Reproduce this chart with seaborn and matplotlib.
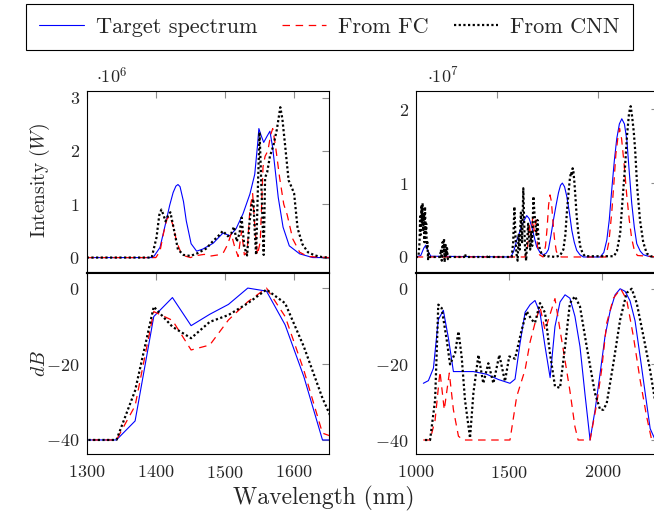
"""Target vs. FC / CNN reconstructed spectra: intensity (top) and dB (bottom)."""
import matplotlib
matplotlib.use("Agg")
import matplotlib.pyplot as plt
import seaborn as sns

# ---------------------------------------------------------------- data
# top-left: intensity, units of 1e6 W, wavelength in nm
tl_target_x = [1300, 1396, 1406, 1415, 1420, 1425, 1429, 1432, 1435, 1440, 1444, 1451,
               1459, 1468, 1483, 1497, 1507, 1516, 1526, 1536, 1543, 1547, 1549, 1552,
               1556, 1561, 1565, 1569, 1573, 1577, 1584, 1593, 1608, 1627, 1650]
tl_target_y = [0, 0, 0.19, 0.69, 0.98, 1.22, 1.34, 1.37, 1.33, 1.05, 0.69, 0.26,
               0.12, 0.16, 0.27, 0.46, 0.41, 0.54, 0.82, 1.19, 1.56, 2.1, 2.42, 2.3,
               2.16, 2.28, 2.37, 2.06, 1.6, 1.13, 0.57, 0.22, 0.07, 0.0, 0.0]
tl_fc_x = [1300, 1400, 1406, 1411, 1416, 1420, 1425, 1430, 1436, 1442, 1450, 1460, 1470,
           1480, 1490, 1498, 1504, 1509, 1514, 1519, 1524, 1528, 1532, 1536, 1540, 1543,
           1547, 1551, 1555, 1558, 1562, 1566, 1569, 1573, 1579, 1585, 1590, 1598, 1608,
           1620, 1650]
tl_fc_y = [0, 0, 0.12, 0.45, 0.72, 0.78, 0.6, 0.3, 0.1, 0.03, 0.0, 0.04, 0.06,
           0.03, 0.05, 0.1, 0.25, 0.45, 0.2, 0.02, 0.5, 0.05, 0.1, 0.9, 1.2, 0.6,
           0.05, 0.3, 1.7, 1.9, 2.0, 2.3, 2.42, 2.1, 1.5, 1.0, 0.8, 0.35, 0.1,
           0.02, 0]
tl_cnn_x = [1300, 1394, 1401, 1405, 1408, 1411, 1414, 1418, 1421, 1425, 1432, 1440, 1450,
            1460, 1473, 1482, 1490, 1497, 1504, 1509, 1513, 1517, 1521, 1524, 1528, 1532,
            1535, 1538, 1541, 1543, 1545, 1548, 1550, 1553, 1556, 1558, 1561, 1565, 1570,
            1575, 1580, 1583, 1587, 1592, 1597, 1600, 1605, 1612, 1620, 1630, 1640, 1650]
tl_cnn_y = [0, 0, 0.38, 0.8, 0.9, 0.8, 0.68, 0.8, 0.85, 0.6, 0.15, 0.05, 0.03,
            0.08, 0.17, 0.3, 0.4, 0.5, 0.4, 0.45, 0.58, 0.3, 0.45, 0.75, 0.2, 0.04,
            0.6, 0.95, 1.1, 0.5, 0.05, 1.5, 2.35, 1.2, 0.05, 1.5, 1.6, 1.9, 2.1,
            2.4, 2.82, 2.6, 2.1, 1.45, 1.3, 1.2, 0.55, 0.25, 0.1, 0.04, 0.01, 0]

# top-right: intensity, units of 1e7 W
tr_target_x = [1100, 1125, 1140, 1150, 1160, 1175, 1570, 1585, 1600, 1612, 1624, 1637,
               1649, 1661, 1674, 1686, 1698, 1715, 1731, 1745, 1756, 1768, 1781, 1794,
               1806, 1816, 1825, 1836, 1847, 1860, 1872, 1884, 1896, 1912, 1929, 2012,
               2030, 2045, 2057, 2069, 2082, 2094, 2107, 2119, 2132, 2144, 2156, 2168,
               2181, 2193, 2210, 2226, 2250, 2300]
tr_target_y = [0, 0.02, 0.12, 0.16, 0.08, 0.01, 0, 0.08, 0.23, 0.32, 0.42, 0.5,
               0.56, 0.52, 0.41, 0.27, 0.14, 0.06, 0.03, 0.05, 0.1, 0.28, 0.5, 0.7,
               0.87, 0.97, 1.0, 0.95, 0.82, 0.6, 0.36, 0.2, 0.09, 0.03, 0.0, 0.0,
               0.06, 0.23, 0.5, 0.9, 1.3, 1.6, 1.8, 1.87, 1.8, 1.58, 1.15, 0.73,
               0.4, 0.18, 0.08, 0.03, 0.01, 0]
tr_fc_x = [1100, 1640, 1652, 1662, 1670, 1678, 1686, 1694, 1702, 1712, 1730, 1742,
           1750, 1757, 1764, 1771, 1778, 1786, 1795, 1805, 1820, 2040, 2055, 2069,
           2080, 2090, 2100, 2108, 2118, 2130, 2143, 2156, 2168, 2181, 2196, 2300]
tr_fc_y = [0, 0, 0.1, 0.45, 0.25, 0.52, 0.35, 0.5, 0.15, 0.03, 0.0, 0.15,
           0.4, 0.7, 0.84, 0.75, 0.5, 0.25, 0.08, 0.02, 0, 0, 0.2, 0.59,
           1.0, 1.4, 1.62, 1.74, 1.6, 1.27, 0.85, 0.5, 0.25, 0.09, 0.02, 0]
tr_cnn_x = [1100, 1112, 1115, 1119, 1122, 1125, 1128, 1131, 1134, 1137, 1140, 1143,
            1146, 1149, 1152, 1155, 1158, 1161, 1164, 1168, 1220, 1225, 1229, 1233,
            1237, 1240, 1243, 1247, 1251, 1255, 1259, 1263, 1340, 1344, 1348, 1455,
            1459, 1463, 1575, 1582, 1588, 1593, 1598, 1604, 1609, 1614, 1620, 1626,
            1632, 1637, 1641, 1646, 1651, 1656, 1661, 1666, 1671, 1676, 1682, 1687,
            1692, 1697, 1702, 1708, 1714, 1722, 1731, 1745, 1760, 1790, 1814, 1830,
            1840, 1847, 1855, 1862, 1868, 1872, 1876, 1880, 1885, 1890, 1896, 1903,
            1913, 1925, 1937, 2080, 2095, 2111, 2122, 2135, 2145, 2155, 2163, 2170,
            2178, 2185, 2195, 2209, 2225, 2242, 2260, 2300]
tr_cnn_y = [0, 0, 0.05, 0.2, 0.55, 0.3, 0.7, 0.45, 0.73, 0.35, 0.6, 0.2,
            0.68, 0.3, 0.45, 0.1, 0.2, -0.03, 0.05, 0, 0, 0.1, -0.05, 0.2,
            0.05, 0.25, -0.07, 0.18, 0.02, 0.12, -0.03, 0, 0, 0.04, 0, 0,
            0.03, 0, 0, 0.2, 0.68, 0.3, 0.05, -0.05, 0.3, 0.1, 0.6, 0.2,
            0.93, 0.4, 0.1, -0.05, 0.2, 0.45, 0.25, 0.1, 0.35, 0.15, 0.82, 0.6,
            0.45, 0.3, 0.5, 0.2, 0.1, 0.05, 0.03, 0.0, 0.01, 0.0, 0.02, 0.1,
            0.3, 0.59, 0.85, 1.05, 1.15, 1.1, 1.2, 1.15, 1.0, 0.8, 0.55, 0.35,
            0.15, 0.05, 0.01, 0.01, 0.08, 0.32, 0.75, 1.22, 1.65, 1.95, 2.04, 1.9,
            1.7, 1.45, 0.95, 0.5, 0.2, 0.05, 0.01, 0]

# bottom-left: dB
bl_x = [1289, 1316, 1343, 1370, 1397, 1424, 1451, 1478, 1505, 1533, 1560, 1587, 1614, 1641, 1668]
bl_target_db = [-40, -40, -40, -35, -7.5, -2.5, -9.9, -6.9, -4.3, 0, -0.8, -9.7, -23.3, -40, -40]
bl_fc_db = [-40, -40, -40, -31, -6.2, -8.5, -16.3, -15, -8.4, -3.6, 0, -7.5, -21.6, -38.2, -40]
bl_cnn_db = [-40, -40, -40, -27, -4.9, -10.2, -13.2, -8.9, -7.1, -4, -0.4, -4, -15.4, -29, -40]

# bottom-right: dB
br_target_x = [1041, 1068, 1095, 1121, 1148, 1175, 1202, 1309, 1380, 1443, 1505, 1532,
               1559, 1586, 1613, 1639, 1666, 1693, 1720, 1746, 1773, 1800, 1826, 1853,
               1880, 1907, 1934, 1961, 1988, 2014, 2041, 2068, 2095, 2122, 2148, 2175,
               2202, 2229, 2256, 2283, 2310]
br_target_db = [-25, -24.3, -21, -8.2, -5.7, -13, -21.9, -21.9, -22.6, -24, -25, -23.9,
                -14.4, -6.2, -4.2, -3.1, -6.4, -15.3, -23.5, -10, -3.5, -1.6, -2.5, -7.3,
                -15.3, -28, -40, -32, -22.3, -12.6, -6, -1.6, 0, -0.7, -3.2, -8.5,
                -17.9, -27.5, -37, -40, -40]
br_fc_x = [1041, 1077, 1104, 1130, 1153, 1180, 1202, 1229, 1255, 1505, 1541, 1586,
           1613, 1639, 1666, 1693, 1746, 1773, 1800, 1826, 1853, 1870, 1934, 1970,
           1996, 2023, 2059, 2098, 2130, 2166, 2202, 2237, 2264, 2300]
br_fc_db = [-40, -40, -34.7, -21.9, -32, -22.3, -32, -39, -40, -40, -28.5, -21.4,
            -14, -9.1, -4.8, -11, -2.6, -10.9, -19, -27, -36.5, -40, -40, -30.3,
            -21.4, -9.1, -2.5, 0, -2.9, -12.6, -24.1, -33.8, -40, -40]
br_cnn_x = [1050, 1077, 1104, 1121, 1139, 1166, 1184, 1211, 1229, 1246, 1264, 1291,
            1309, 1336, 1362, 1389, 1416, 1448, 1478, 1501, 1532, 1568, 1595, 1621,
            1639, 1666, 1693, 1719, 1746, 1773, 1800, 1826, 1853, 1880, 1916, 1960,
            1988, 2005, 2023, 2059, 2095, 2130, 2157, 2184, 2220, 2255, 2300]
br_cnn_db = [-40, -40, -29.4, -4.2, -5.1, -13.5, -20, -17, -11.3, -17.9, -29.4, -39.5,
             -27.6, -17.5, -25, -19.7, -25, -17.5, -24.5, -17.9, -18.5, -10.8, -6, -8.2,
             -9, -3.8, -6.4, -17, -25.8, -26.2, -15.3, -3.8, -2, -4.7, -15.3, -27.6,
             -32, -32, -30.3, -19.7, -8.2, -1.1, 0, -3.8, -12.6, -21.4, -35]

LABELS = ["Target spectrum", "From FC", "From CNN"]

# ---------------------------------------------------------------- style
sns.set_style("white")
plt.rcParams["font.family"] = "serif"
plt.rcParams["font.serif"] = ["cmr10", "DejaVu Serif"]
plt.rcParams["mathtext.fontset"] = "cm"
plt.rcParams["axes.unicode_minus"] = False

STYLES = [
    dict(color="#0000ff", lw=0.8, linestyle="-"),
    dict(color="#ff0000", lw=0.9, linestyle=(0, (6, 4.5))),
    dict(color="black", lw=1.6, linestyle=(0, (1, 1.1)), dash_capstyle="butt"),
]
TICK_FS = 13
W, H = 654, 519


def make_ax(fig, x0, y0, x1, y1):
    """Axes from pixel box (left, top, right, bottom)."""
    return fig.add_axes([x0 / W, 1 - y1 / H, (x1 - x0) / W, (y1 - y0) / H])


def draw(ax, series):
    for (x, y), st in zip(series, STYLES):
        sns.lineplot(x=x, y=y, ax=ax, estimator=None, sort=False, legend=False, **st)


def style_ax(ax, xlim, xticks, ylim, yticks, top_row, show_xlabels):
    ax.set_xlim(*xlim)
    ax.set_ylim(*ylim)
    ax.set_xticks(xticks, labels=[f"${t}$" for t in xticks])
    ax.set_yticks(yticks, labels=[f"${t}$" for t in yticks])
    ax.set_xlabel("")
    ax.set_ylabel("")
    ax.tick_params(direction="in", length=5, width=0.8, color="#8c8c8c",
                   top=True, right=True, labelsize=TICK_FS, pad=5,
                   labelbottom=show_xlabels)
    ax.tick_params(axis="x", pad=7)
    for sp in ax.spines.values():
        sp.set_color("black")
        sp.set_linewidth(0.8)
    mid = "bottom" if top_row else "top"
    ax.spines[mid].set_linewidth(1.5)


fig = plt.figure(figsize=(W / 100, H / 100), dpi=100)

ax_tl = make_ax(fig, 86.7, 90.7, 328.7, 272.5)
ax_bl = make_ax(fig, 86.7, 272.5, 328.7, 454)
ax_tr = make_ax(fig, 415.7, 90.7, 658.4, 272.5)
ax_br = make_ax(fig, 415.7, 272.5, 658.4, 454)

draw(ax_tl, [(tl_target_x, tl_target_y), (tl_fc_x, tl_fc_y), (tl_cnn_x, tl_cnn_y)])
draw(ax_tr, [(tr_target_x, tr_target_y), (tr_fc_x, tr_fc_y), (tr_cnn_x, tr_cnn_y)])
draw(ax_bl, [(bl_x, bl_target_db), (bl_x, bl_fc_db), (bl_x, bl_cnn_db)])
draw(ax_br, [(br_target_x, br_target_db), (br_fc_x, br_fc_db), (br_cnn_x, br_cnn_db)])

style_ax(ax_tl, (1300, 1650), [1300, 1400, 1500, 1600], (-0.28, 3.13), [0, 1, 2, 3], True, False)
style_ax(ax_bl, (1300, 1650), [1300, 1400, 1500, 1600], (-43.7, 4.1), [-40, -20, 0], False, True)
style_ax(ax_tr, (1100, 2300), [1500, 2000], (-0.21, 2.25), [0, 1, 2], True, False)
style_ax(ax_br, (1000, 2300), [1000, 1500, 2000], (-43.7, 4.3), [-40, -20, 0], False, True)

ax_tl.text(0.04, 1.025, r"$\cdot 10^{6}$", transform=ax_tl.transAxes,
           ha="left", va="bottom", fontsize=TICK_FS)
ax_tr.text(0.045, 1.025, r"$\cdot 10^{7}$", transform=ax_tr.transAxes,
           ha="left", va="bottom", fontsize=TICK_FS)

fig.text(40 / W, 1 - 181 / H, r"$\mathrm{Intensity}\ (W)$", rotation=90,
         ha="center", va="center", fontsize=14)
fig.text(40 / W, 1 - 364 / H, "$dB$", rotation=90, ha="center", va="center", fontsize=14)
fig.text(323.5 / W, 1 - 498 / H, "Wavelength (nm)", ha="center", va="center", fontsize=17)

handles = ax_tl.get_lines()[:3]
leg = fig.legend(handles, LABELS, loc="upper center", bbox_to_anchor=(329.5 / W, 1 - 4 / H),
                 ncol=3, frameon=True, fancybox=False, edgecolor="black", framealpha=1,
                 fontsize=16, handlelength=2.0, handletextpad=0.55, columnspacing=1.1,
                 borderpad=0.6, borderaxespad=0)
leg.get_frame().set_linewidth(0.8)

fig.savefig("out.png", dpi=100)
